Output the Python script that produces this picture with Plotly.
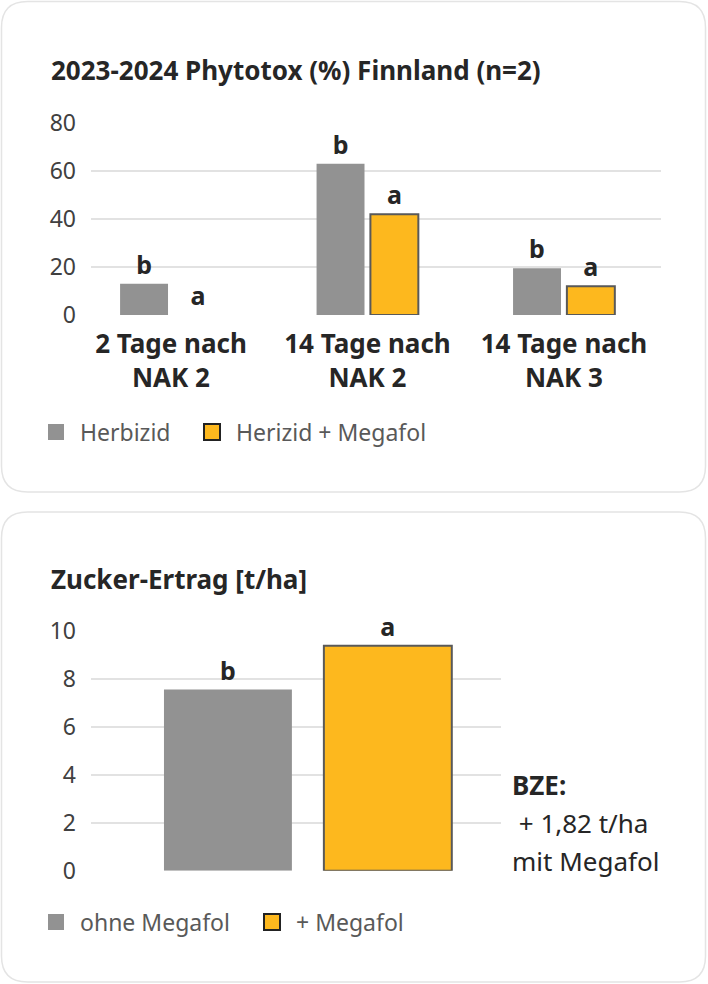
import plotly.graph_objects as go

W, H = 708, 984

# ---------------- data ----------------
phyto_title = "2023-2024 Phytotox (%) Finnland (n=2)"
phyto_categories = ["2 Tage nach<br>NAK 2", "14 Tage nach<br>NAK 2", "14 Tage nach<br>NAK 3"]
phyto_series_names = ["Herbizid", "Herizid + Megafol"]
phyto_herbizid = [13, 63, 19.5]
phyto_megafol = [0, 42, 12]
phyto_letters_herbizid = ["b", "b", "b"]
phyto_letters_megafol = ["a", "a", "a"]
phyto_yticks = [0, 20, 40, 60, 80]

sugar_title = "Zucker-Ertrag [t/ha]"
sugar_category = ["Zucker-Ertrag"]
sugar_series_names = ["ohne Megafol", "+ Megafol"]
sugar_ohne = [7.55]
sugar_mit = [9.37]
sugar_letters_ohne = ["b"]
sugar_letters_mit = ["a"]
sugar_yticks = [0, 2, 4, 6, 8, 10]
bze_lines = ["<b>BZE:</b>", " + 1,82 t/ha", "mit Megafol"]

# ---------------- style ----------------
FONT = "Noto Sans"
GRAY = "#929292"
ORANGE = "#FDB81E"
EDGE = "#595959"
GRID = "#e2e2e2"
DARK = "#262626"


def px(x):
    return x / W


def py(y):
    return 1 - y / H


fig = go.Figure()

# top chart bars
fig.add_trace(go.Bar(
    x=phyto_categories, y=phyto_herbizid, name=phyto_series_names[0],
    marker=dict(color=GRAY, line=dict(width=0)),
    width=0.244, offset=-0.259,
    text=phyto_letters_herbizid, textposition="outside",
    textfont=dict(family=FONT, size=25, color=DARK, weight="bold"),
    cliponaxis=False, showlegend=False, xaxis="x", yaxis="y", hoverinfo="skip"))
fig.add_trace(go.Bar(
    x=phyto_categories, y=phyto_megafol, name=phyto_series_names[1],
    marker=dict(color=ORANGE,
                line=dict(width=[2 if v > 0 else 0 for v in phyto_megafol], color=EDGE)),
    width=0.244, offset=0.015,
    text=phyto_letters_megafol, textposition="outside",
    textfont=dict(family=FONT, size=25, color=DARK, weight="bold"),
    cliponaxis=False, showlegend=False, xaxis="x", yaxis="y", hoverinfo="skip"))

# bottom chart bars
fig.add_trace(go.Bar(
    x=sugar_category, y=sugar_ohne, name=sugar_series_names[0],
    marker=dict(color=GRAY, line=dict(width=0)),
    width=0.312, offset=-0.351,
    text=sugar_letters_ohne, textposition="outside",
    textfont=dict(family=FONT, size=25, color=DARK, weight="bold"),
    cliponaxis=False, showlegend=False, xaxis="x2", yaxis="y2", hoverinfo="skip"))
fig.add_trace(go.Bar(
    x=sugar_category, y=sugar_mit, name=sugar_series_names[1],
    marker=dict(color=ORANGE, line=dict(width=2, color=EDGE)),
    width=0.312, offset=0.039,
    text=sugar_letters_mit, textposition="outside",
    textfont=dict(family=FONT, size=25, color=DARK, weight="bold"),
    cliponaxis=False, showlegend=False, xaxis="x2", yaxis="y2", hoverinfo="skip"))

# legend entries (square symbols)
fig.add_trace(go.Scatter(x=[None], y=[None], mode="markers", name=phyto_series_names[0],
                         marker=dict(symbol="square", size=16, color=GRAY),
                         legend="legend", xaxis="x", yaxis="y"))
fig.add_trace(go.Scatter(x=[None], y=[None], mode="markers", name=phyto_series_names[1],
                         marker=dict(symbol="square", size=16, color=ORANGE,
                                     line=dict(width=2, color="#222222")),
                         legend="legend", legendwidth=210, xaxis="x", yaxis="y"))
fig.add_trace(go.Scatter(x=[None], y=[None], mode="markers", name=sugar_series_names[0],
                         marker=dict(symbol="square", size=16, color=GRAY),
                         legend="legend2", xaxis="x2", yaxis="y2"))
fig.add_trace(go.Scatter(x=[None], y=[None], mode="markers", name=sugar_series_names[1],
                         marker=dict(symbol="square", size=16, color=ORANGE,
                                     line=dict(width=2, color="#222222")),
                         legend="legend2", legendwidth=150, xaxis="x2", yaxis="y2"))


def rounded_rect(x0, y0, x1, y1, r):
    def p(x, y):
        return f"{px(x):.5f},{py(y):.5f}"
    return (f"M {p(x0 + r, y0)} L {p(x1 - r, y0)} Q {p(x1, y0)} {p(x1, y0 + r)} "
            f"L {p(x1, y1 - r)} Q {p(x1, y1)} {p(x1 - r, y1)} "
            f"L {p(x0 + r, y1)} Q {p(x0, y1)} {p(x0, y1 - r)} "
            f"L {p(x0, y0 + r)} Q {p(x0, y0)} {p(x0 + r, y0)} Z")


shapes = [
    dict(type="path", xref="paper", yref="paper", path=rounded_rect(1.5, 1.5, 705.5, 492, 26),
         line=dict(color="#e4e4e4", width=1.5), fillcolor="white", layer="below"),
    dict(type="path", xref="paper", yref="paper", path=rounded_rect(1.5, 512, 705.5, 982, 26),
         line=dict(color="#e4e4e4", width=1.5), fillcolor="white", layer="below"),
]

annotations = [
    dict(text=phyto_title, x=px(49), y=py(70), xref="paper", yref="paper",
         xanchor="left", yanchor="middle", showarrow=False,
         font=dict(family=FONT, size=26, color=DARK, weight="bold")),
    dict(text=sugar_title, x=px(49), y=py(579), xref="paper", yref="paper",
         xanchor="left", yanchor="middle", showarrow=False,
         font=dict(family=FONT, size=26, color=DARK, weight="bold")),
]
for i, line in enumerate(bze_lines):
    annotations.append(dict(text=line, x=px(510), y=py(785 + 38 * i), xref="paper", yref="paper",
                            xanchor="left", yanchor="middle", showarrow=False,
                            font=dict(family=FONT, size=26, color=DARK)))

axis_common = dict(showline=False, zeroline=False, ticks="", automargin=False)

fig.update_layout(
    width=W, height=H,
    margin=dict(l=0, r=0, t=0, b=0, autoexpand=False),
    paper_bgcolor="white", plot_bgcolor="rgba(0,0,0,0)",
    barmode="overlay",
    font=dict(family=FONT, color=DARK),
    shapes=shapes,
    annotations=annotations,
    xaxis=dict(domain=[px(91), px(661)], anchor="y", type="category",
               range=[-0.407, 2.494], showgrid=False,
               tickfont=dict(family=FONT, size=26, color=DARK, weight="bold"),
               ticklabelstandoff=11, **axis_common),
    yaxis=dict(domain=[py(315), py(123)], anchor="x", range=[0, 80],
               tickvals=phyto_yticks, showgrid=True, gridcolor=GRID, gridwidth=2,
               tickfont=dict(family=FONT, size=23, color="#404040"),
               ticklabelstandoff=14, **axis_common),
    xaxis2=dict(domain=[px(91), px(501)], anchor="y2", type="category",
                range=[-0.529, 0.471], showgrid=False, showticklabels=False,
                **axis_common),
    yaxis2=dict(domain=[py(870.7), py(630.7)], anchor="x2", range=[0, 10],
                tickvals=sugar_yticks, showgrid=True, gridcolor=GRID, gridwidth=2,
                tickfont=dict(family=FONT, size=23, color="#404040"),
                ticklabelstandoff=14, **axis_common),
    legend=dict(orientation="h", x=px(32), y=py(432), xanchor="left", yanchor="middle",
                font=dict(family=FONT, size=23, color="#595959"),
                itemwidth=38, entrywidth=103, entrywidthmode="pixels",
                bgcolor="rgba(0,0,0,0)"),
    legend2=dict(orientation="h", x=px(32), y=py(922), xanchor="left", yanchor="middle",
                 font=dict(family=FONT, size=23, color="#595959"),
                 itemwidth=38, entrywidth=163, entrywidthmode="pixels",
                 bgcolor="rgba(0,0,0,0)"),
)

fig.write_html("out.html", config={"displayModeBar": False},
               post_script="document.body.style.margin='0';")
